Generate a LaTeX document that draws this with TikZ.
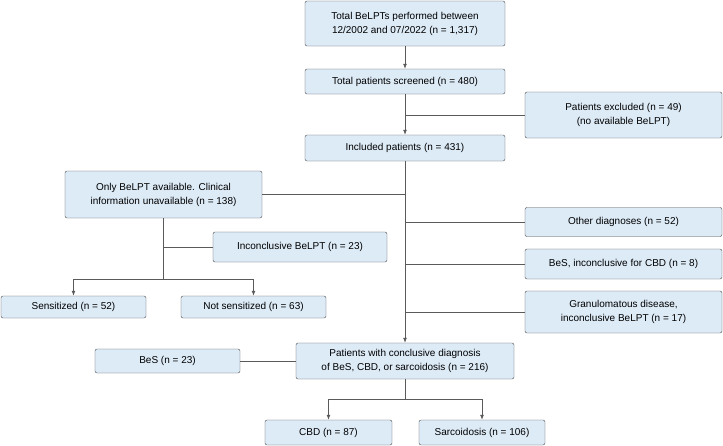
\documentclass[tikz,border=0pt]{standalone}
\usepackage{fontspec}
\setmainfont{Liberation Sans}
\usetikzlibrary{arrows.meta}
\definecolor{boxfill}{HTML}{DDEBF7}
\definecolor{boxline}{HTML}{4A4A4A}
\definecolor{linkgray}{HTML}{5A5A5A}
\begin{document}
\begin{tikzpicture}[x=1pt,y=-1pt,
  box/.style={draw=boxline, fill=boxfill, rounded corners=2pt, align=center, font=\fontsize{10}{14}\selectfont, inner sep=1pt},
  link/.style={draw=linkgray, line width=0.8pt},
  arr/.style={link, -{Latex[length=5pt,width=4pt]}}]
\useasboundingbox (0,0) rectangle (723,445);
\node (top) at (405,23.5) [box, minimum width=200pt, minimum height=45pt] {Total BeLPTs performed between\\12/2002 and 07/2022 (n = 1,317)};
\node (screen) at (405,81.5) [box, minimum width=200pt, minimum height=25pt] {Total patients screened (n = 480)};
\node (excl) at (623.5,115) [box, minimum width=197pt, minimum height=46pt] {Patients excluded (n = 49)\\(no available BeLPT)};
\node (incl) at (405,148) [box, minimum width=200pt, minimum height=26pt] {Included patients (n = 431)};
\node (only) at (163.5,194.5) [box, minimum width=197pt, minimum height=47pt] {Only BeLPT available. Clinical\\information unavailable (n = 138)};
\node (other) at (623.5,222) [box, minimum width=197pt, minimum height=29pt] {Other diagnoses (n = 52)};
\node (inconc) at (300,247) [box, minimum width=174pt, minimum height=30pt] {Inconclusive BeLPT (n = 23)};
\node (besinc) at (623.5,264) [box, minimum width=197pt, minimum height=30pt] {BeS, inconclusive for CBD (n = 8)};
\node (sens) at (73.5,307) [box, minimum width=145pt, minimum height=22pt] {Sensitized (n = 52)};
\node (notsens) at (253.5,307) [box, minimum width=145pt, minimum height=22pt] {Not sensitized (n = 63)};
\node (gran) at (623.5,312) [box, minimum width=197pt, minimum height=42pt] {Granulomatous disease,\\inconclusive BeLPT (n = 17)};
\node (conc) at (405,361) [box, minimum width=218pt, minimum height=36pt] {Patients with conclusive diagnosis\\of BeS, CBD, or sarcoidosis (n = 216)};
\node (bes) at (167.5,361) [box, minimum width=145pt, minimum height=24pt] {BeS (n = 23)};
\node (cbd) at (328.5,432.5) [box, minimum width=127pt, minimum height=25pt] {CBD (n = 87)};
\node (sarc) at (482,432.5) [box, minimum width=126pt, minimum height=25pt] {Sarcoidosis (n = 106)};

% junctions
\coordinate (jexcl) at (405,115);
\coordinate (jonly) at (405,194.5);
\coordinate (jother) at (405,222);
\coordinate (jbesinc) at (405,264);
\coordinate (jgran) at (405,312);
\coordinate (jinconc) at (163.5,247);
\coordinate (lsplit) at (163.5,279);
\coordinate (lleft) at (73.5,279);
\coordinate (lright) at (253.5,279);
\coordinate (bsplit) at (405,399);
\coordinate (bleft) at (328.5,399);
\coordinate (bright) at (482,399);

\draw[arr] (top) -- (screen);
\draw[arr] (screen) -- (incl);
\draw[arr] (incl) -- (conc);
\draw[link]
(excl) -- (jexcl)
(only) -- (jonly)
(other) -- (jother)
(besinc) -- (jbesinc)
(gran) -- (jgran)
(only) -- (lsplit)
(inconc) -- (jinconc)
(lleft) -- (lright)
(bes) -- (conc)
(conc) -- (bsplit)
(bleft) -- (bright);
\draw[arr] (lleft) -- (sens);
\draw[arr] (lright) -- (notsens);
\draw[arr] (bleft) -- (cbd);
\draw[arr] (bright) -- (sarc);
\end{tikzpicture}
\end{document}
